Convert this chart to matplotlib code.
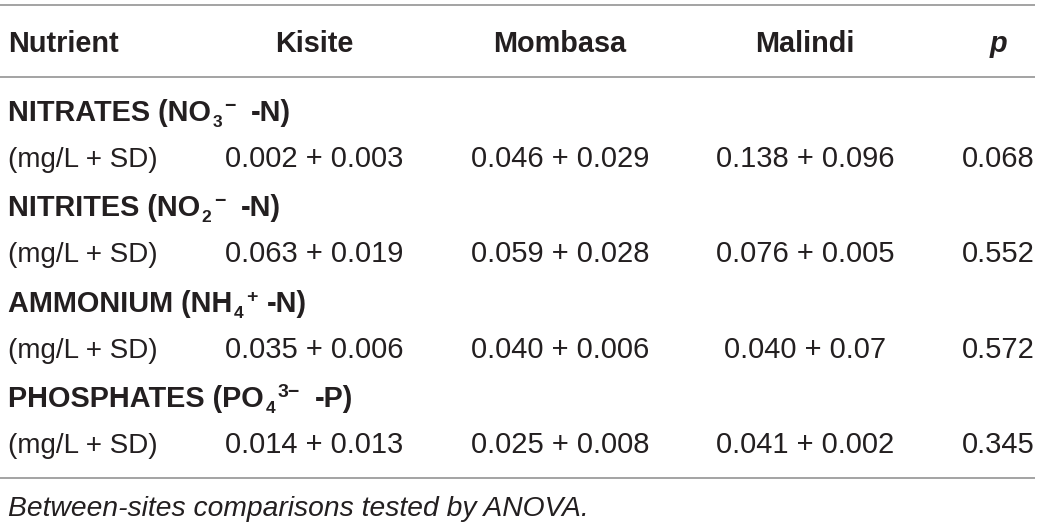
import matplotlib
matplotlib.use("Agg")
import matplotlib.pyplot as plt

plt.rcParams['font.family'] = ['Liberation Sans', 'DejaVu Sans']

# ---- data ----
columns = ["Nutrient", "Kisite", "Mombasa", "Malindi", "p"]
nutrient_names = ["NITRATES (NO", "NITRITES (NO", "AMMONIUM (NH", "PHOSPHATES (PO"]
nutrient_sub = ["3", "2", "4", "4"]
nutrient_sup = ["\u2212", "\u2212", "+", "3\u2212"]
nutrient_tail = ["-N)", "-N)", "-N)", "-P)"]
unit_label = "(mg/L + SD)"
kisite_mean = ["0.002", "0.063", "0.035", "0.014"]
kisite_sd = ["0.003", "0.019", "0.006", "0.013"]
mombasa_mean = ["0.046", "0.059", "0.040", "0.025"]
mombasa_sd = ["0.029", "0.028", "0.006", "0.008"]
malindi_mean = ["0.138", "0.076", "0.040", "0.041"]
malindi_sd = ["0.096", "0.005", "0.07", "0.002"]
p_values = ["0.068", "0.552", "0.572", "0.345"]
footnote = "Between-sites comparisons tested by ANOVA."

# ---- layout ----
W, H = 1040, 528
fig = plt.figure(figsize=(W / 100, H / 100), dpi=100)
ax = fig.add_axes([0, 0, 1, 1])
ax.set_xlim(0, W)
ax.set_ylim(H, 0)
ax.axis('off')
renderer = fig.canvas.get_renderer()

txt = '#231f20'
line_c = '#a3a3a3'
fs_head = 20.8
fs_title = 20.8
fs_sub = 12.5
fs_sup = 14
fs_unit = 20
fs_val = 21
fs_foot = 20.3

col_x = [8, 314, 560, 805, 998]
header_base = 52
title_base0 = 121
value_base0 = 167
pair_dy = 95.4

for y in (5, 77, 478):
    ax.plot([0, 1035], [y, y], color=line_c, lw=1.4, solid_capstyle='butt')

for i, c in enumerate(columns):
    ha = 'left' if i == 0 else 'center'
    style = 'italic' if c == 'p' else 'normal'
    ax.text(col_x[i], header_base, c, ha=ha, va='baseline', fontsize=fs_head,
            fontweight='bold', fontstyle=style, color=txt)


def put(x, y, s, size):
    t = ax.text(x, y, s, ha='left', va='baseline', fontsize=size,
                fontweight='bold', color=txt)
    bb = t.get_window_extent(renderer=renderer)
    return x + bb.width


for k in range(len(nutrient_names)):
    yt = title_base0 + k * pair_dy
    yv = value_base0 + k * pair_dy
    x = put(col_x[0], yt, nutrient_names[k], fs_title)
    x = put(x + 1.5, yt + 6, nutrient_sub[k], fs_sub)
    x = put(x + 2.5, yt - 10, nutrient_sup[k], fs_sup)
    gap = 10 if nutrient_sup[k] == "+" else 15
    put(x + gap, yt, nutrient_tail[k], fs_title)

    ax.text(col_x[0], yv, unit_label, ha='left', va='baseline',
            fontsize=fs_unit, color=txt)
    vals = [f"{kisite_mean[k]} + {kisite_sd[k]}",
            f"{mombasa_mean[k]} + {mombasa_sd[k]}",
            f"{malindi_mean[k]} + {malindi_sd[k]}",
            p_values[k]]
    for j, v in enumerate(vals):
        ax.text(col_x[j + 1], yv, v, ha='center', va='baseline',
                fontsize=fs_val, color=txt)

ax.text(col_x[0], 516, footnote, ha='left', va='baseline', fontsize=fs_foot,
        fontstyle='italic', color=txt)

fig.savefig('out.png', dpi=100)
